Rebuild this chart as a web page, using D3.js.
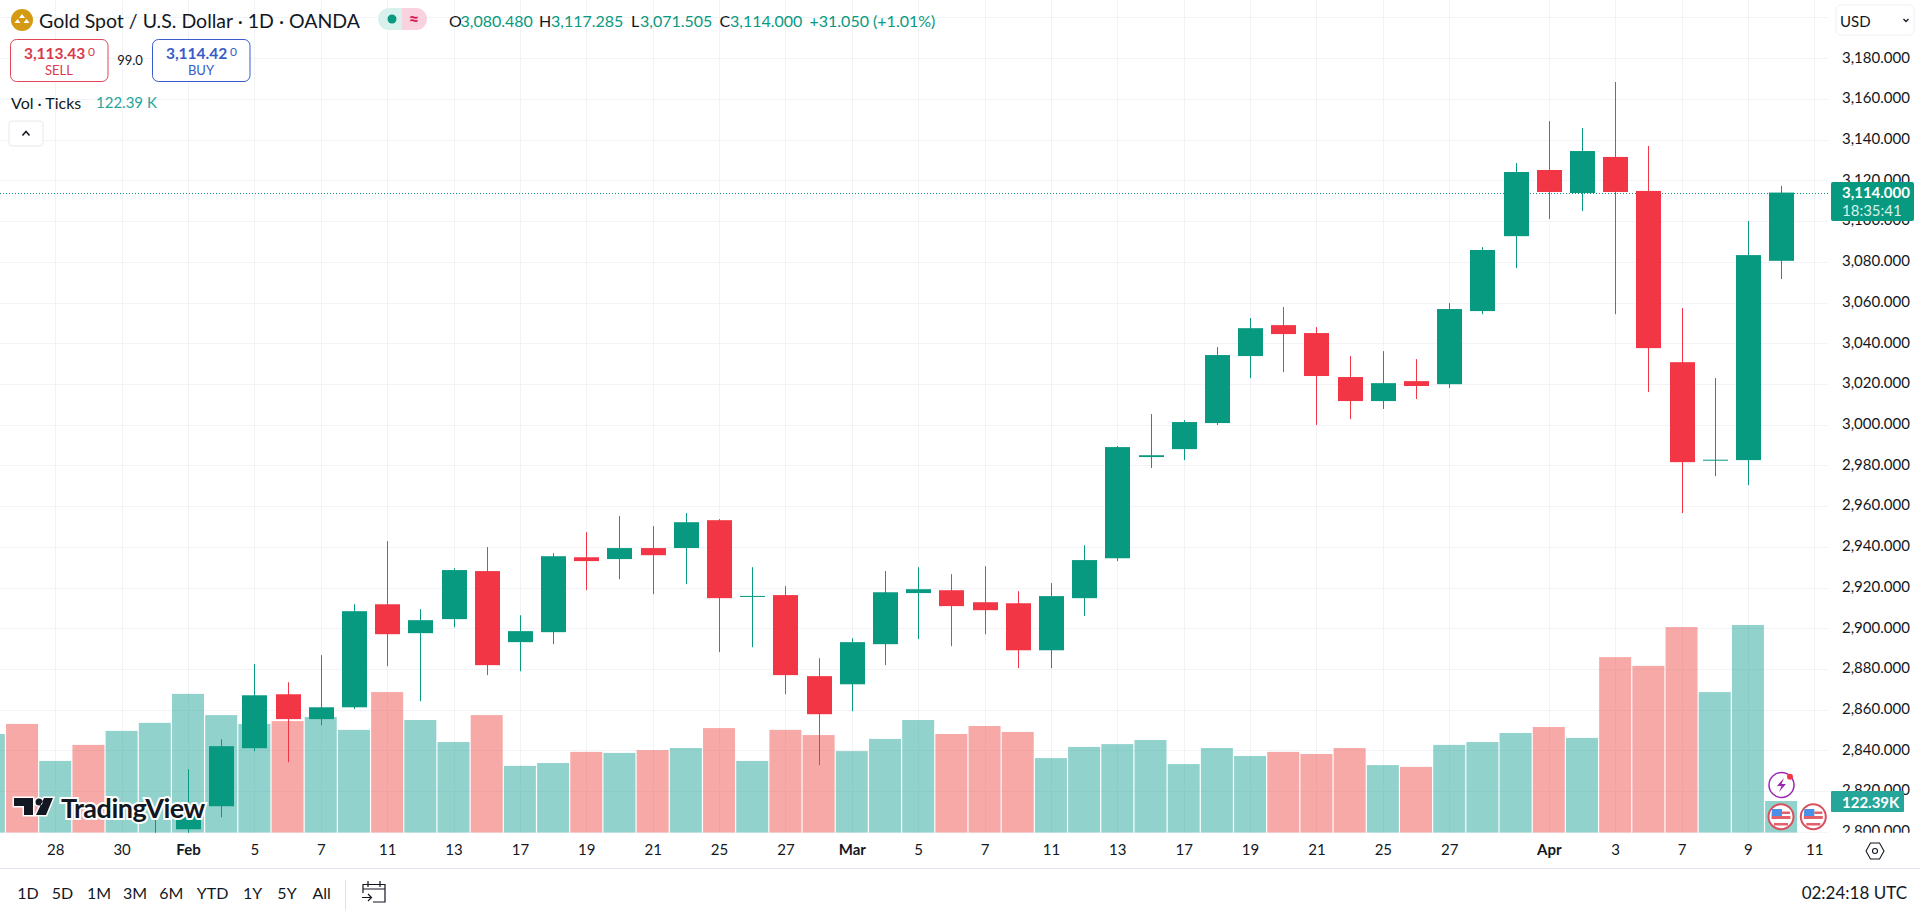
<!DOCTYPE html>
<html><head><meta charset="utf-8">
<script src="https://cdn.jsdelivr.net/npm/d3@7/dist/d3.min.js"></script>
<style>
html,body{margin:0;padding:0;background:#fff;overflow:hidden}
svg{display:block}
text{font-family:Lato,"Open Sans",sans-serif;fill:#131722}
</style></head><body>
<svg id="c" width="1920" height="912"></svg>
<script>
const dates=["Jan 24","Jan 27","Jan 28","Jan 29","Jan 30","Jan 31","Feb 3","Feb 4","Feb 5","Feb 6","Feb 7","Feb 10","Feb 11","Feb 12","Feb 13","Feb 14","Feb 17","Feb 18","Feb 19","Feb 20","Feb 21","Feb 24","Feb 25","Feb 26","Feb 27","Feb 28","Mar 3","Mar 4","Mar 5","Mar 6","Mar 7","Mar 10","Mar 11","Mar 12","Mar 13","Mar 14","Mar 17","Mar 18","Mar 19","Mar 20","Mar 21","Mar 24","Mar 25","Mar 26","Mar 27","Mar 28","Mar 31","Apr 1","Apr 2","Apr 3","Apr 4","Apr 7","Apr 8","Apr 9","Apr 10","Apr 11"];
// candles from Jan 31 on; earlier sessions lie below the visible price range
const candleDates=dates.slice(5,55);
const opens =[2794,2801.3,2812.6,2841.1,2867.6,2855.4,2861.2,2911.8,2897.6,2904.5,2928.1,2893.2,2898.1,2934.9,2934,2939.4,2939.4,2953.1,2915.4,2916.3,2876.5,2872.5,2892.2,2917.3,2918.7,2912.8,2912.3,2889.2,2914.8,2934.4,2984.1,2988,3000.8,3033.7,3048.9,3045,3023.4,3011.6,3021.4,3019.9,3055.8,3092.6,3125.1,3113.8,3131.5,3114.8,3030.7,2982.4,2982.6,3080.48];
const highs =[2808.2,2830.8,2845.5,2882.4,2873.5,2886.8,2911.8,2942.8,2909.4,2929.5,2939.9,2906.4,2936.9,2947.2,2955.1,2950.2,2956.6,2953.6,2930,2920.7,2885.3,2895.1,2928.1,2930,2926.6,2930.5,2918.2,2922.2,2940.8,2989.5,3005.2,3002.2,3038.1,3052.4,3057.8,3047.9,3033.7,3036.1,3032.2,3059.7,3087.2,3128.5,3149.1,3145.7,3168.3,3136.9,3057.3,3022.9,3100,3117.285];
const lows  =[2780,2795,2807.2,2839.6,2834.2,2852.4,2860.3,2881.4,2864.2,2900.5,2877,2878.9,2892.2,2918.7,2924.1,2916.8,2921.7,2888.3,2890.7,2867.6,2832.8,2859.3,2881.9,2894.7,2891.2,2897.1,2880.4,2880.4,2906,2933,2978.7,2982.6,2999.8,3022.9,3025.8,2999.8,3002.7,3007.7,3012.6,3018,3054.3,3076.9,3101,3104.9,3054.3,3016,2956.6,2974.7,2970.3,3071.505];
const closes=[2798,2810.6,2842.1,2867.1,2855.4,2861.2,2908.4,2897.1,2904,2928.6,2881.9,2898.6,2935.4,2933,2939.4,2935.9,2952.1,2914.8,2915.9,2877,2857.8,2893.2,2917.7,2919.2,2910.9,2908.9,2889.2,2915.8,2933.5,2989,2985,3001.3,3034.2,3047.4,3044.5,3023.9,3011.6,3020.4,3019,3056.8,3085.8,3124.1,3114.3,3134.4,3114.3,3037.6,2981.6,2982.8,3083.3,3114];
const volDates=dates.slice(0,55);
const volumes=[381,420,277,339,393,424,536,454,420,431,447,397,543,435,350,454,258,269,312,308,319,327,404,277,397,377,315,362,435,381,412,389,288,331,342,358,265,327,296,312,304,327,261,254,339,350,385,408,366,678,644,794,543,802,122.39];
const volUp=[1,0,1,0,1,1,1,1,1,0,1,1,0,1,1,0,1,1,0,1,0,1,0,1,0,0,1,1,1,0,0,0,1,1,1,1,1,1,1,0,0,0,1,0,1,1,1,0,1,0,0,0,1,1,1];
const priceTicks=[3200,3180,3160,3140,3120,3100,3080,3060,3040,3020,3000,2980,2960,2940,2920,2900,2880,2860,2840,2820,2800];
const timeTicks=["Jan 28","Jan 30","Feb 3","Feb 5","Feb 7","Feb 11","Feb 13","Feb 17","Feb 19","Feb 21","Feb 25","Feb 27","Mar 3","Mar 5","Mar 7","Mar 11","Mar 13","Mar 17","Mar 19","Mar 21","Mar 25","Mar 27","Apr 1","Apr 3","Apr 7","Apr 9","Apr 11"];
const timeLabels=["28","30","Feb","5","7","11","13","17","19","21","25","27","Mar","5","7","11","13","17","19","21","25","27","Apr","3","7","9","11"];
const ranges=["1D","5D","1M","3M","6M","YTD","1Y","5Y","All"];
const lastClose=3114, lastVol=122.39;

const UP="#089981",DN="#F23645",GRID="#F1F3F6";
const svg=d3.select("#c");
const W=1828,B=832.7;
const x=d3.scalePoint().domain(dates).range([-11.14,1814.3]);
const y=d3.scaleLinear().domain([2800,3180]).range([831.9,58.2]);
const v=d3.scaleLinear().domain([0,1000]).range([B,B-259]);

const defs=svg.append("defs");
defs.append("clipPath").attr("id","pane").append("rect").attr("x",0).attr("y",0).attr("width",W).attr("height",B);
defs.append("clipPath").attr("id","paxis").append("rect").attr("x",W).attr("y",0).attr("width",92).attr("height",B);

// grid
const pane=svg.append("g").attr("clip-path","url(#pane)");
pane.append("g").selectAll("line").data(priceTicks).join("line")
 .attr("x1",0).attr("x2",W).attr("y1",d=>Math.round(y(d))+.5).attr("y2",d=>Math.round(y(d))+.5).attr("stroke",GRID);
pane.append("g").selectAll("line").data(timeTicks).join("line")
 .attr("x1",d=>Math.round(x(d))+.5).attr("x2",d=>Math.round(x(d))+.5).attr("y1",0).attr("y2",B).attr("stroke",GRID);

// price line
const py=Math.round(y(lastClose))+.5;
pane.append("line").attr("x1",0).attr("x2",W).attr("y1",py).attr("y2",py).attr("stroke",UP).attr("stroke-dasharray","1 2");

// volume
pane.append("g").selectAll("rect").data(volDates).join("rect")
 .attr("x",d=>x(d)-16).attr("width",32)
 .attr("y",(d,i)=>v(volumes[i])).attr("height",(d,i)=>B-v(volumes[i]))
 .attr("fill",(d,i)=>volUp[i]?"rgba(38,166,154,.5)":"rgba(239,83,80,.5)");

// candles
const cg=pane.append("g").selectAll("g").data(candleDates).join("g");
cg.append("line").attr("x1",d=>Math.round(x(d))+.5).attr("x2",d=>Math.round(x(d))+.5)
 .attr("y1",(d,i)=>y(highs[i])).attr("y2",(d,i)=>y(lows[i]))
 .attr("stroke",(d,i)=>closes[i]>=opens[i]?UP:DN).attr("stroke-width",1);
cg.append("rect").attr("x",d=>Math.round(x(d))-12).attr("width",25)
 .attr("y",(d,i)=>y(Math.max(opens[i],closes[i])))
 .attr("height",(d,i)=>Math.max(1,Math.abs(y(opens[i])-y(closes[i]))))
 .attr("fill",(d,i)=>closes[i]>=opens[i]?UP:DN);

// price axis
const pa=svg.append("g").attr("clip-path","url(#paxis)").append("g").attr("transform",`translate(${W},-1)`)
 .call(d3.axisRight(y).tickValues(priceTicks.slice(1)).tickSize(0).tickPadding(14).tickFormat(d3.format(",.3f")));
pa.select(".domain").remove();
pa.selectAll("text").attr("font-size",15).attr("font-family","Lato").attr("fill","#131722");

// time axis
const ta=svg.append("g").attr("transform",`translate(0,${B})`)
 .call(d3.axisBottom(x).tickValues(timeTicks).tickSize(0).tickPadding(12).tickFormat((d,i)=>timeLabels[i]));
ta.select(".domain").remove();
ta.selectAll("text").attr("font-size",15).attr("font-family","Lato").attr("fill","#131722")
 .attr("font-weight",(d,i)=>/[A-Z]/.test(timeLabels[i])?700:400);
svg.append("line").attr("x1",0).attr("x2",1920).attr("y1",868.5).attr("y2",868.5).attr("stroke","#E0E3EB");

// tags
svg.append("rect").attr("x",1831).attr("y",182).attr("width",83).attr("height",39).attr("rx",2).attr("fill",UP);
function T(s,tx,ty,o={}){const t=svg.append("text").attr("x",tx).attr("y",ty).attr("dominant-baseline","central").attr("font-size",o.size||15).text(s);
 t.attr("text-anchor",o.anchor||"start").style("fill",o.fill||"#131722");if(o.weight)t.attr("font-weight",o.weight);return t;}
T(d3.format(",.3f")(lastClose),1842,192,{fill:"#fff",weight:700});
T("18:35:41",1842,210,{fill:"#D6F2EC"});
svg.append("rect").attr("x",1831).attr("y",791).attr("width",73).attr("height",21).attr("rx",1).attr("fill","#26A69A");
T(lastVol+"K",1842,802,{fill:"#fff",weight:700});

// logo watermark
const lg=svg.append("g");
lg.append("path").attr("d","M14 798H33V815H24V806H14Z M44 798H53L46 815H36Z M35.5 802a3.5 3.5 0 1 0 7 0a3.5 3.5 0 1 0 -7 0")
  .attr("fill","#131722").attr("stroke","#fff").attr("stroke-width",3).attr("paint-order","stroke");
lg.append("text").attr("x",61).attr("y",807).attr("dominant-baseline","central").attr("font-size",27).attr("font-weight",700).attr("letter-spacing",-.5)
 .attr("stroke","#fff").attr("stroke-width",4).attr("paint-order","stroke").attr("font-family","Inter").text("TradingView");

// header
svg.append("circle").attr("cx",22).attr("cy",20).attr("r",11).attr("fill","#D49A12");
svg.append("path").attr("d","M22 14l3 4h-6zM17.5 19l3 4h-6zM26.5 19l3 4h-6z").attr("fill","#fff");
T("Gold Spot / U.S. Dollar · 1D · OANDA",39,20,{size:19.5});
svg.append("path").attr("d","M402 8H389a11 11 0 0 0 0 22H402Z").attr("fill","#D8F1ED");
svg.append("path").attr("d","M402 8H416a11 11 0 0 1 0 22H402Z").attr("fill","#F9D1DF");
svg.append("circle").attr("cx",392).attr("cy",19).attr("r",4.5).attr("fill",UP);
T("≈",414,19,{size:18,fill:"#D81B60",anchor:"middle",weight:700});
const oh=[["O",449,"3,080.480",460.5],["H",539,"3,117.285",551],["L",631,"3,071.505",640],["C",719.5,"3,114.000",730]];
oh.forEach(a=>{T(a[0],a[1],20,{size:16});T(a[2],a[3],20,{size:16,fill:UP});});
T("+31.050 (+1.01%)",809.5,20,{size:16,fill:UP});
svg.append("rect").attr("x",10.5).attr("y",39.5).attr("width",97.5).attr("height",42).attr("rx",6).attr("fill","#fff").attr("stroke","#E04656");
svg.append("rect").attr("x",152.5).attr("y",39.5).attr("width",97.5).attr("height",42).attr("rx",6).attr("fill","#fff").attr("stroke","#3B5BC9");
T("3,113.43",24,53,{size:15.5,fill:"#D93A4B",weight:700});
T("0",88,51,{size:12,fill:"#D93A4B"});
T("SELL",59,70,{size:13,fill:"#D93A4B",anchor:"middle"});
T("99.0",130,60,{size:13,anchor:"middle"});
T("3,114.42",166,53,{size:15.5,fill:"#3A5BC7",weight:700});
T("0",230,51,{size:12,fill:"#3A5BC7"});
T("BUY",201,70,{size:13,fill:"#3A5BC7",anchor:"middle"});
T("Vol · Ticks",11,102,{size:16});
T(lastVol+" K",96,102,{size:15,fill:"#26A69A"});
svg.append("rect").attr("x",9).attr("y",121).attr("width",34).attr("height",25).attr("rx",3).attr("fill","#fff").attr("stroke","#E6E8EC");
svg.append("path").attr("d","M22.5 135.5l3.5-4 3.5 4").attr("fill","none").attr("stroke","#131722").attr("stroke-width",1.5);

// currency button
svg.append("rect").attr("x",1836).attr("y",5).attr("width",78).attr("height",30).attr("rx",5).attr("fill","#fff").attr("stroke","#EEF0F3");
T("USD",1840,21,{size:15});
svg.append("path").attr("d","M1903.5 19l2.5 2.5 2.5-2.5").attr("fill","none").attr("stroke","#131722").attr("stroke-width",1.3);

// event icons
svg.append("circle").attr("cx",1781.5).attr("cy",785).attr("r",12.5).attr("fill","#fff").attr("stroke","#9C27B0").attr("stroke-width",1.5);
svg.append("path").attr("d","M1784 778l-7 8h4.5l-2.5 6 7-8h-4.5z").attr("fill","#9C27B0");
svg.append("circle").attr("cx",1790).attr("cy",776.7).attr("r",3).attr("fill","#F23645");
[1781,1813.3].forEach(cx=>{const g=svg.append("g");
 g.append("circle").attr("cx",cx).attr("cy",816.7).attr("r",12.5).attr("fill","#fff").attr("stroke","#D9505F").attr("stroke-width",2);
 g.append("path").attr("d",`M${cx-9.5} 816H${cx+9.5}V819H${cx-9.5}ZM${cx-7} 823H${cx+7}V825.5H${cx-7}ZM${cx+1} 811.5H${cx+9}V814H${cx+1}Z`).attr("fill","#E5606B");
 g.append("path").attr("d",`M${cx-9} 809H${cx+1}V816H${cx-9.5}Z`).attr("fill","#4A90E8");
});

// settings icon
svg.append("path").attr("d","M1866 851l4.5-8h9l4.5 8-4.5 8h-9z").attr("fill","none").attr("stroke","#131722").attr("stroke-width",1.1);
svg.append("circle").attr("cx",1875).attr("cy",851).attr("r",2.5).attr("fill","none").attr("stroke","#131722").attr("stroke-width",1.1);

// bottom bar
const rx=[28,62.4,99,135,171.4,212.6,252.6,287,321.6];
ranges.forEach((r,i)=>T(r,rx[i],892.7,{size:16,anchor:"middle"}));
svg.append("line").attr("x1",345.5).attr("x2",345.5).attr("y1",880).attr("y2",910).attr("stroke","#E0E3EB");
svg.append("path").attr("d","M363 893V884.5H385V902H373M363 889H385M368 881V887M380 881V887M362 897.5H371M368 894l3.5 3.5-3.5 3.5").attr("fill","none").attr("stroke","#131722").attr("stroke-width",1.2);
T("02:24:18 UTC",1907,892.7,{size:17,anchor:"end"});
</script>
</body></html>
